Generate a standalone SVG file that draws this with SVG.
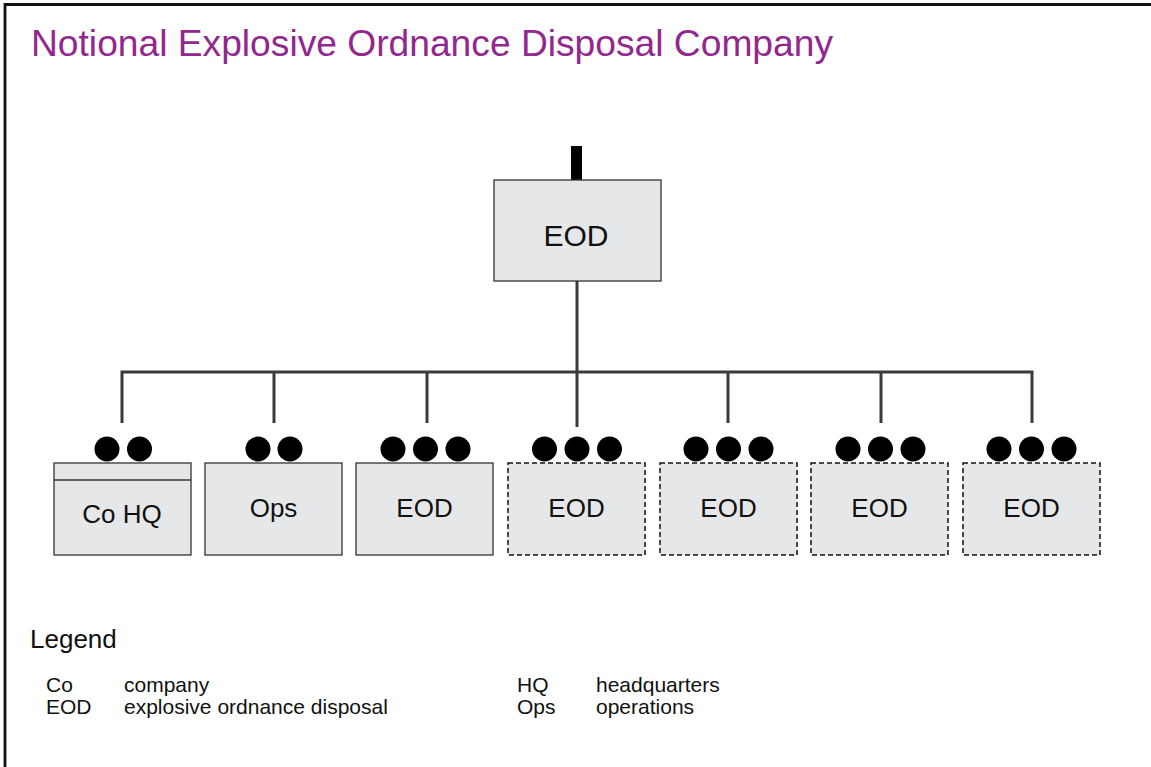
<svg xmlns="http://www.w3.org/2000/svg" width="1151" height="767" viewBox="0 0 1151 767">
  <defs>
    <style>
      text { font-family: "Liberation Sans", Arial, sans-serif; fill: #111; }
      .title { font-size: 37.2px; fill: #92278f; }
      .unit { fill: #e6e7e8; stroke: #333; stroke-width: 1.3; }
      .unit-dash { fill: #e6e7e8; stroke: #111; stroke-width: 1.5; stroke-dasharray: 5 3; }
      .lbl { font-size: 26px; text-anchor: middle; }
      .lbl-top { font-size: 30px; text-anchor: middle; }
      .wire { fill: none; stroke: #3a3a3a; stroke-width: 3; }
      .pip { fill: #000; }
      .legend-h { font-size: 26px; }
      .legend { font-size: 21px; }
    </style>
  </defs>

  <rect x="0" y="0" width="1151" height="767" fill="#fff"/>
  <!-- page frame -->
  <path d="M5 767 V4.5 H1151" fill="none" stroke="#111" stroke-width="2.8"/>

  <text class="title" x="31" y="56">Notional Explosive Ordnance Disposal Company</text>

  <!-- connectors -->
  <g id="connectors">
    <path class="wire" d="M577 281 V427"/>
    <path class="wire" d="M122 423 V372 H1032 V423"/>
    <path class="wire" d="M274 372 V423"/>
    <path class="wire" d="M427 372 V423"/>
    <path class="wire" d="M728 372 V423"/>
    <path class="wire" d="M881 372 V423"/>
  </g>

  <!-- company (top) -->
  <g id="node-company">
    <rect x="571" y="146" width="11" height="34" fill="#000"/>
    <rect class="unit" x="494" y="180" width="167" height="101"/>
    <text class="lbl-top" x="576" y="246">EOD</text>
  </g>

  <!-- company headquarters -->
  <g id="node-cohq">
    <circle class="pip" cx="107" cy="449" r="12.5"/>
    <circle class="pip" cx="139.5" cy="449" r="12.5"/>
    <rect class="unit" x="54" y="463" width="137" height="92"/>
    <line x1="54" y1="480" x2="191" y2="480" stroke="#333" stroke-width="1.3"/>
    <text class="lbl" x="122" y="523">Co HQ</text>
  </g>

  <!-- operations section -->
  <g id="node-ops">
    <circle class="pip" cx="258" cy="449" r="12.5"/>
    <circle class="pip" cx="290" cy="449" r="12.5"/>
    <rect class="unit" x="205" y="463" width="137" height="92"/>
    <text class="lbl" x="273.5" y="517">Ops</text>
  </g>

  <!-- EOD platoons -->
  <g id="node-eod-1">
    <circle class="pip" cx="393" cy="449" r="12.5"/>
    <circle class="pip" cx="425.5" cy="449" r="12.5"/>
    <circle class="pip" cx="458" cy="449" r="12.5"/>
    <rect class="unit" x="356" y="463" width="137" height="92"/>
    <text class="lbl" x="424.5" y="517">EOD</text>
  </g>

  <g id="node-eod-2">
    <circle class="pip" cx="544.5" cy="449" r="12.5"/>
    <circle class="pip" cx="577" cy="449" r="12.5"/>
    <circle class="pip" cx="609.5" cy="449" r="12.5"/>
    <rect class="unit-dash" x="508" y="463" width="137" height="92"/>
    <text class="lbl" x="576.5" y="517">EOD</text>
  </g>

  <g id="node-eod-3">
    <circle class="pip" cx="696" cy="449" r="12.5"/>
    <circle class="pip" cx="728.5" cy="449" r="12.5"/>
    <circle class="pip" cx="761" cy="449" r="12.5"/>
    <rect class="unit-dash" x="660" y="463" width="137" height="92"/>
    <text class="lbl" x="728.5" y="517">EOD</text>
  </g>

  <g id="node-eod-4">
    <circle class="pip" cx="848" cy="449" r="12.5"/>
    <circle class="pip" cx="880.5" cy="449" r="12.5"/>
    <circle class="pip" cx="913" cy="449" r="12.5"/>
    <rect class="unit-dash" x="811" y="463" width="137" height="92"/>
    <text class="lbl" x="879.5" y="517">EOD</text>
  </g>

  <g id="node-eod-5">
    <circle class="pip" cx="999" cy="449" r="12.5"/>
    <circle class="pip" cx="1031.5" cy="449" r="12.5"/>
    <circle class="pip" cx="1064" cy="449" r="12.5"/>
    <rect class="unit-dash" x="963" y="463" width="137" height="92"/>
    <text class="lbl" x="1031.5" y="517">EOD</text>
  </g>

  <!-- legend -->
  <g id="legend">
    <text class="legend-h" x="30" y="648">Legend</text>
    <text class="legend" x="46" y="691.5">Co</text>
    <text class="legend" x="124" y="691.5">company</text>
    <text class="legend" x="46" y="714">EOD</text>
    <text class="legend" x="124" y="714">explosive ordnance disposal</text>
    <text class="legend" x="517" y="691.5">HQ</text>
    <text class="legend" x="596" y="691.5">headquarters</text>
    <text class="legend" x="517" y="714">Ops</text>
    <text class="legend" x="596" y="714">operations</text>
  </g>
</svg>
